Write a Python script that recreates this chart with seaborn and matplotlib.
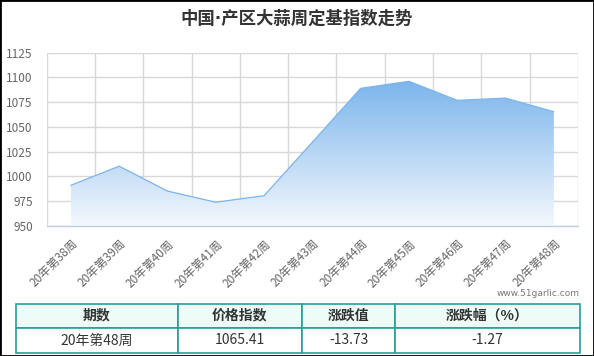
import matplotlib
matplotlib.use("Agg")
import matplotlib.pyplot as plt
import seaborn as sns
import pandas as pd
import numpy as np
from matplotlib.colors import LinearSegmentedColormap
from matplotlib.patches import Rectangle

# data
weeks = ["20年第38周", "20年第39周", "20年第40周", "20年第41周", "20年第42周",
         "20年第43周", "20年第44周", "20年第45周", "20年第46周", "20年第47周",
         "20年第48周"]
index_values = [991.1, 1010.4, 985.3, 974.0, 980.6, 1034.6, 1089.0,
                1096.1, 1076.9, 1079.14, 1065.41]
y_ticks = [950, 975, 1000, 1025, 1050, 1075, 1100, 1125]

table_header = ["期数", "价格指数", "涨跌值", "涨跌幅（%）"]
table_row = ["20年第48周", "1065.41", "-13.73", "-1.27"]
col_px = [161.2, 124.5, 93.3, 184.7]

LINE_BLUE = "#7cb5ec"
GRID = "#d8d8d8"
AXIS = "#c0d0e0"
TEAL = "#2a9d98"

sns.set_style("white")
plt.rcParams["font.family"] = ["Noto Sans CJK SC", "DejaVu Sans"]

W, H = 594, 356
fig = plt.figure(figsize=(W / 100, H / 100), dpi=100)
fig.patch.set_facecolor("white")

# chart area (pixel positions from the reference)
left, right, top, bottom = 46.7, 578.0, 52.7, 226.0
ax = fig.add_axes([left / W, 1 - bottom / H, (right - left) / W, (bottom - top) / H])

df = pd.DataFrame({"x": np.arange(len(weeks)), "value": index_values})

# gradient area under the line
ymin = 950
ymax = max(index_values)
poly = ax.fill_between(df["x"], df["value"], ymin, color="none", lw=0)
cmap = LinearSegmentedColormap.from_list("grad", ["#f4f8fd", LINE_BLUE])
grad = np.linspace(0, 1, 256).reshape(-1, 1)
img = ax.imshow(grad, cmap=cmap, origin="lower", aspect="auto",
                extent=[df["x"].min(), df["x"].max(), ymin, ymax], zorder=2)
img.set_clip_path(poly.get_paths()[0], transform=ax.transData)

sns.lineplot(data=df, x="x", y="value", ax=ax, color=LINE_BLUE, lw=0.9, zorder=3)

ax.set_xlim(-0.5, len(weeks) - 0.5)
ax.set_ylim(950, 1125)
ax.set_yticks(y_ticks)
ax.set_yticklabels([str(v) for v in y_ticks])
ax.set_xticks(df["x"])
ax.set_xticklabels(weeks, rotation=45, ha="right", rotation_mode="anchor")
ax.set_xticks(np.arange(-0.5, len(weeks)), minor=True)
ax.tick_params(axis="x", which="major", length=0, pad=8, labelsize=8.5, labelcolor="#666666")
ax.tick_params(axis="x", which="minor", length=7, color=AXIS, width=1)
ax.tick_params(axis="y", length=0, pad=10, labelsize=8.5, labelcolor="#666666")
ax.set_xlabel("")
ax.set_ylabel("")

ax.grid(True, axis="y", color=GRID, lw=1)
ax.grid(True, axis="x", which="minor", color=GRID, lw=1)
ax.set_axisbelow(True)
for s in ["top", "right", "left"]:
    ax.spines[s].set_visible(False)
ax.spines["bottom"].set_color(AXIS)
ax.spines["bottom"].set_linewidth(1)

# DejaVu first so the middle dot stays narrow
fig.text(0.5, 1 - 19 / H, "中国·产区大蒜周定基指数走势", ha="center", va="center",
         fontsize=12.5, fontweight="bold", color="#333333",
         family=["DejaVu Sans", "Noto Sans CJK SC"])

fig.text(580 / W, 1 - 294 / H, "www.51garlic.com", ha="right", va="center",
         fontsize=6.5, color="#777777", family=["DejaVu Sans"])

# summary table
t_left, t_right, t_top, t_bot = 16.3, 580.0, 303.5, 352.8
tax = fig.add_axes([t_left / W, 1 - t_bot / H, (t_right - t_left) / W, (t_bot - t_top) / H])
tax.axis("off")
widths = [c / sum(col_px) for c in col_px]
tbl = tax.table(cellText=[table_row], colLabels=table_header, colWidths=widths,
                cellLoc="center", bbox=[0, 0, 1, 1])
tbl.auto_set_font_size(False)
for (r, c), cell in tbl.get_celld().items():
    cell.set_edgecolor(TEAL)
    cell.set_linewidth(1.2)
    cell.get_text().set_fontsize(10)
    cell.get_text().set_color("#333333")
    if r == 0:
        cell.set_facecolor("#eefcf8")
        cell.get_text().set_fontweight("bold")
    else:
        cell.set_facecolor("white")

# outer frame
fig.patches.append(Rectangle((0, 0), 1, 1, transform=fig.transFigure, fill=False,
                             edgecolor="black", lw=2, zorder=10))

fig.savefig("out.png", dpi=100)
